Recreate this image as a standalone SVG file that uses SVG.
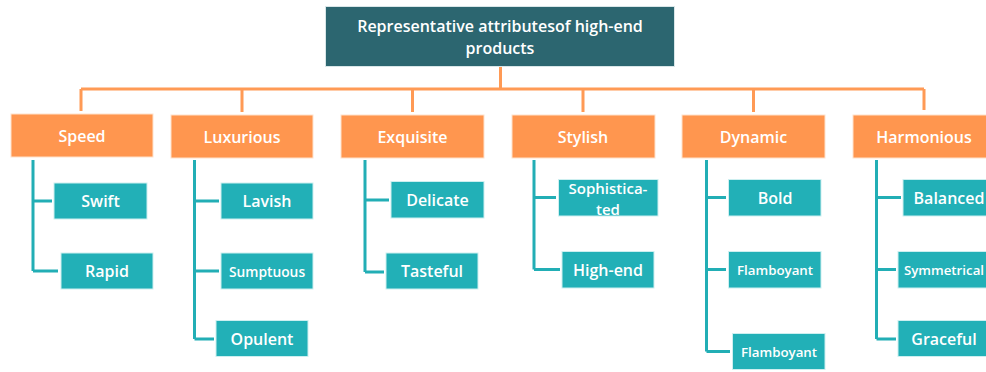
<svg xmlns="http://www.w3.org/2000/svg" width="986" height="372" viewBox="0 0 986 372">
<style>
text{font-family:"Open Sans","Liberation Sans",sans-serif;font-weight:600;fill:#ffffff;text-anchor:middle;dominant-baseline:central}
.root rect{fill:#2c6670;stroke:#d9e6e8;stroke-width:1}
.cat rect{fill:#ff964f;stroke:#ffe2cc;stroke-width:1}
.leaf rect{fill:#22b0b7;stroke:#cdeff0;stroke-width:1}
.cat text{font-size:16px}
.leaf text{font-size:16px}
.leaf text.sm{font-size:13.3px}
.root text{font-size:16px}
.oc{fill:none;stroke:#ff9a55;stroke-width:3}
.tc{fill:none;stroke:#22aeb5;stroke-width:3}
</style>
<rect width="986" height="372" fill="#ffffff"/>
<g id="connectors">
<path class="oc" d="M500.5 67V89M81 89H924M81 89V111M242 89V112M412.5 89V112M583 89V112M753.5 89V112M924 89V110"/>
<path class="tc" d="M33 160V271M33 201H52M33 271H58"/>
<path class="tc" d="M194.5 160V339M194.5 201H219M194.5 271H219M194.5 339H214"/>
<path class="tc" d="M365 160V272M365 200H389M365 272H384"/>
<path class="tc" d="M534 160V269.5M534 197.5H556M534 269.5H560"/>
<path class="tc" d="M706.5 160V351.5M706.5 197.5H726M706.5 269.5H726M706.5 351.5H730"/>
<path class="tc" d="M876.5 160V339M876.5 197.5H901M876.5 269.5H896M876.5 339H896"/>
</g>
<g id="root" class="root">
<rect x="325.5" y="6.5" width="349" height="60"/>
<text x="500" y="25.5">Representative attributesof high-end<tspan x="500" dy="22">products</tspan></text>
</g>
<g id="speed" class="cat"><rect x="11" y="114" width="142" height="43"/><text x="82" y="135.5">Speed</text></g>
<g id="luxurious" class="cat"><rect x="171" y="115" width="142" height="43"/><text x="242" y="136.5">Luxurious</text></g>
<g id="exquisite" class="cat"><rect x="341" y="115" width="143" height="43"/><text x="412.5" y="136.5">Exquisite</text></g>
<g id="stylish" class="cat"><rect x="512" y="115" width="143" height="43"/><text x="583" y="136.5">Stylish</text></g>
<g id="dynamic" class="cat"><rect x="682" y="115" width="143" height="43"/><text x="753.5" y="136.5">Dynamic</text></g>
<g id="harmonious" class="cat"><rect x="853" y="115" width="143" height="43"/><text x="924" y="136.5">Harmonious</text></g>
<g id="swift" class="leaf"><rect x="54" y="183" width="93" height="36"/><text x="100.5" y="201">Swift</text></g>
<g id="rapid" class="leaf"><rect x="61" y="253" width="92" height="36"/><text x="107" y="271">Rapid</text></g>
<g id="lavish" class="leaf"><rect x="221" y="183" width="92" height="36"/><text x="267" y="201">Lavish</text></g>
<g id="sumptuous" class="leaf"><rect x="221" y="253" width="92" height="36"/><text class="sm" x="267" y="271" style="font-size:13.8px">Sumptuous</text></g>
<g id="opulent" class="leaf"><rect x="216" y="320.5" width="92" height="36"/><text x="262" y="338.5">Opulent</text></g>
<g id="delicate" class="leaf"><rect x="391" y="181.5" width="93" height="36.5"/><text x="437.5" y="199.5">Delicate</text></g>
<g id="tasteful" class="leaf"><rect x="386" y="253" width="92" height="36"/><text x="432" y="271">Tasteful</text></g>
<g id="sophisticated" class="leaf"><rect x="558.5" y="179.5" width="99.5" height="36.5"/><text x="608" y="187.5" style="font-size:15px">Sophistica-<tspan x="608" dy="21">ted</tspan></text></g>
<g id="high-end" class="leaf"><rect x="562" y="251.5" width="92" height="36.5"/><text x="608" y="269.5">High-end</text></g>
<g id="bold" class="leaf"><rect x="728.5" y="179.5" width="92.5" height="36.5"/><text x="775" y="197.5">Bold</text></g>
<g id="flamboyant-1" class="leaf"><rect x="728.5" y="251.5" width="92.5" height="36.5"/><text class="sm" x="775" y="269.5">Flamboyant</text></g>
<g id="flamboyant-2" class="leaf"><rect x="732.5" y="333.5" width="92.5" height="36"/><text class="sm" x="779" y="351.5">Flamboyant</text></g>
<g id="balanced" class="leaf"><rect x="903" y="179.5" width="93" height="36.5"/><text x="949" y="197.5">Balanced</text></g>
<g id="symmetrical" class="leaf"><rect x="898" y="251.5" width="93" height="36.5"/><text class="sm" x="944" y="269.5">Symmetrical</text></g>
<g id="graceful" class="leaf"><rect x="898" y="320.5" width="93" height="36"/><text x="944" y="338.5">Graceful</text></g>
</svg>
